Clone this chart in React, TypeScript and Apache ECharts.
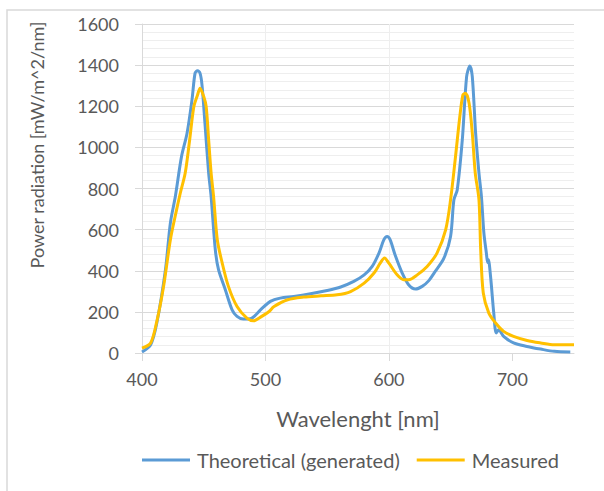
import React, { useEffect, useRef } from 'react';
import * as echarts from 'echarts';

const theoreticalWl = [400, 407, 412, 419, 423, 427, 432, 436.5, 440.5, 443, 445, 447, 448.6, 451, 454, 456, 459.4, 462, 467.5, 473, 477, 482, 489, 496, 504, 512, 523, 536.5, 550, 561, 571.6, 580, 586.5, 592, 596, 598.6, 601, 605, 610.8, 616, 621.6, 627, 632.4, 637, 644.5, 650, 652.7, 655.4, 659.5, 663, 665.6, 667.6, 670.3, 673, 675, 677, 679, 680, 680.6, 682.4, 685, 687, 689, 693, 701, 712, 723, 734, 747];
const theoreticalVal = [5, 40, 146, 405, 633, 761, 955, 1069, 1231, 1361, 1373, 1361, 1304, 1118, 875, 761, 502, 405, 308, 210, 178, 165, 170, 210, 251, 267, 275, 288, 304, 321, 348, 380, 421, 486, 551, 567, 551, 478, 389, 332, 311, 324, 352, 392, 460, 567, 745, 793, 1036, 1344, 1396, 1344, 1069, 875, 761, 583, 486, 440, 455, 372, 194, 97, 113, 81, 49, 32, 19, 8, 5];

const measuredWl = [400, 407, 412, 417.5, 423, 428, 431, 435, 438.6, 442, 445, 447, 450, 452, 454, 456, 458, 461, 465, 470, 477, 485, 490.5, 497, 503, 507, 518, 531, 545, 558, 569, 580, 588, 593, 596.5, 600, 606.7, 612, 616, 623, 631, 639, 646, 650, 654, 657.5, 660, 662, 665, 667.6, 670, 673, 674.4, 676.5, 681, 686.5, 693, 701, 712, 723, 734, 750];
const measuredVal = [24, 49, 154, 324, 551, 696, 777, 875, 1036, 1198, 1255, 1288, 1247, 1198, 1036, 875, 761, 551, 437, 324, 226, 170, 157, 178, 202, 226, 259, 272, 278, 283, 299, 340, 389, 437, 462, 437, 380, 356, 356, 380, 421, 486, 599, 745, 955, 1150, 1255, 1263, 1215, 1069, 875, 745, 502, 292, 194, 146, 105, 81, 61, 49, 40, 40];

const xTickLabels = [400, 500, 600, 700];
const yTickLabels = [0, 200, 400, 600, 800, 1000, 1200, 1400, 1600];

const seriesNames = ['Theoretical (generated)', 'Measured'];
const seriesColors = ['#5B9BD5', '#FFC000'];

const FONT = 'Lato';
const TEXT_COLOR = '#595959';

export default function App() {
  const ref = useRef<HTMLDivElement>(null);
  useEffect(() => {
    const chart = echarts.init(ref.current!, null, { renderer: 'svg' });
    const theoretical = theoreticalWl.map((w, i) => [w, theoreticalVal[i]]);
    const measured = measuredWl.map((w, i) => [w, measuredVal[i]]);
    chart.setOption({
      animation: false,
      backgroundColor: '#ffffff',
      grid: { left: 142, top: 24, right: 30, bottom: 138 },
      xAxis: {
        type: 'value',
        min: 400,
        max: 750,
        interval: 20,
        axisLine: { show: true, lineStyle: { color: '#d9d9d9', width: 1 } },
        axisTick: { show: true, customValues: xTickLabels, length: 8, lineStyle: { color: '#d9d9d9' } },
        axisLabel: { customValues: xTickLabels, margin: 17, color: TEXT_COLOR, fontSize: 18, fontFamily: FONT, formatter: (v: number) => String(v) },
        splitLine: {
          show: true,
          showMaxLine: false,
          lineStyle: { color: ['#d9d9d9', '#eeeeee', '#eeeeee', '#eeeeee', '#eeeeee'], width: 1 },
        },
        name: 'Wavelenght [nm]',
        nameLocation: 'middle',
        nameGap: 54,
        nameTextStyle: { fontSize: 22, color: TEXT_COLOR, fontFamily: FONT },
      },
      yAxis: {
        type: 'value',
        min: 0,
        max: 1600,
        interval: 200,
        axisLine: { show: true, lineStyle: { color: '#d9d9d9', width: 1 } },
        axisTick: { show: true, customValues: yTickLabels, length: 7, lineStyle: { color: '#d9d9d9' } },
        axisLabel: { customValues: yTickLabels, margin: 23, color: TEXT_COLOR, fontSize: 18, fontFamily: FONT, formatter: (v: number) => String(v) },
        splitLine: { show: true, lineStyle: { color: '#d9d9d9', width: 1 } },
        minorTick: { show: false, splitNumber: 5 },
        minorSplitLine: { show: true, lineStyle: { color: '#eeeeee', width: 1 } },
      },
      legend: {
        show: true,
        data: seriesNames,
        left: 142,
        top: 450,
        padding: 0,
        icon: 'rect',
        itemWidth: 48,
        itemHeight: 3,
        itemGap: 17,
        textStyle: { fontSize: 20, color: TEXT_COLOR, fontFamily: FONT, padding: [0, 0, 0, 2] },
      },
      graphic: [
        {
          type: 'rect',
          silent: true,
          shape: { x: 7, y: 10, width: 700, height: 600 },
          style: { fill: 'none', stroke: '#d9d9d9', lineWidth: 1.5 },
        },
        {
          type: 'text',
          silent: true,
          x: 37,
          y: 145,
          rotation: Math.PI / 2,
          style: {
            text: 'Power radiation [mW/m^2/nm]',
            fontSize: 18,
            fontFamily: FONT,
            fill: TEXT_COLOR,
            align: 'center',
            verticalAlign: 'middle',
          },
        },
      ],
      series: [
        {
          name: seriesNames[0],
          type: 'line',
          data: theoretical,
          symbol: 'none',
          smooth: 0.3,
          lineStyle: { width: 3, color: seriesColors[0] },
          itemStyle: { color: seriesColors[0] },
        },
        {
          name: seriesNames[1],
          type: 'line',
          data: measured,
          symbol: 'none',
          smooth: 0.3,
          lineStyle: { width: 3, color: seriesColors[1] },
          itemStyle: { color: seriesColors[1] },
        },
      ],
    });
    return () => chart.dispose();
  }, []);
  return (
    <div
      ref={ref}
      style={{ position: 'fixed', left: 0, top: 0, width: 604, height: 491, background: '#fff' }}
    />
  );
}
